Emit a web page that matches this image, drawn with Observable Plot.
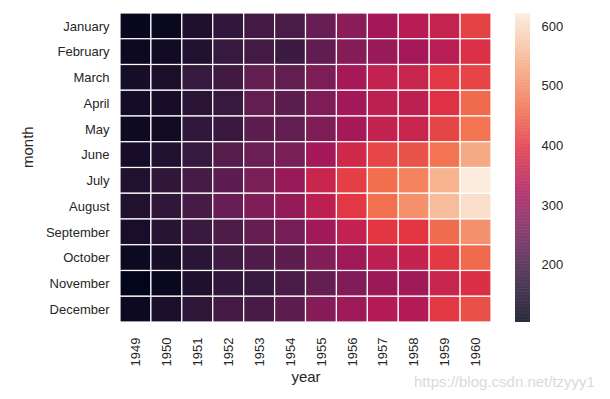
<!DOCTYPE html>
<html><head><meta charset="utf-8">
<script src="https://cdn.jsdelivr.net/npm/d3@7"></script>
<script src="https://cdn.jsdelivr.net/npm/@observablehq/plot@0.6"></script>
<style>
body{margin:0;background:#fff;font-family:"Liberation Sans",Arial,sans-serif;}
#wrap{position:relative;width:610px;height:399px;}
#wrap svg{position:absolute;top:0;}
#wm{position:absolute;left:414px;top:373px;font-size:15px;color:#dadada;font-family:"Liberation Sans",Arial,sans-serif;}
</style></head>
<body><div id="wrap"><div id="wm">https://blog.csdn.net/tzyyy1</div></div>
<script>
const months = ["January","February","March","April","May","June","July","August","September","October","November","December"];
const years = ["1949","1950","1951","1952","1953","1954","1955","1956","1957","1958","1959","1960"];
const passengers = [
  [112,118,132,129,121,135,148,148,136,119,104,118],
  [115,126,141,135,125,149,170,170,158,133,114,140],
  [145,150,178,163,172,178,199,199,184,162,146,166],
  [171,180,193,181,183,218,230,242,209,191,172,194],
  [196,196,236,235,229,243,264,272,237,211,180,201],
  [204,188,235,227,234,264,302,293,259,229,203,229],
  [242,233,267,269,270,315,364,347,312,274,237,278],
  [284,277,317,313,318,374,413,405,355,306,271,306],
  [315,301,356,348,355,422,465,467,404,347,305,336],
  [340,318,362,348,363,435,491,505,404,359,310,337],
  [360,342,406,396,420,472,548,559,463,407,362,405],
  [417,391,419,461,472,535,622,606,508,461,390,432]
];
const colorTicks = [200,300,400,500,600];

const rocketStops = ["#03051a","#35193e","#701f57","#ad1759","#e13342","#f37651","#f6b48f","#faebdd"];
const rocket = d3.piecewise(d3.interpolateRgb, rocketStops);
const vmin = d3.min(passengers.flat()), vmax = d3.max(passengers.flat());
const colorOpt = {type:"linear", domain:[vmin, vmax], interpolate: () => rocket};

const data = [];
years.forEach((y,i)=>months.forEach((m,j)=>data.push({year:y, month:m, value:passengers[i][j]})));

const txt = "#262626";
const font = "Liberation Sans, Arial, sans-serif";
const main = Plot.plot({
  width: 610, height: 399,
  marginLeft: 120, marginRight: 119, marginTop: 13, marginBottom: 77,
  style: {fontFamily:font, fontSize:"13px", color: txt, background:"transparent"},
  x: {domain: years, padding: 0, round: false, label: null},
  y: {domain: months, padding: 0, round: false, label: null},
  color: colorOpt,
  marks: [
    Plot.cell(data, {x:"year", y:"month", fill:"value", stroke:"white", strokeWidth:1.2}),
    Plot.axisX({tickSize:0, tickPadding:15, tickRotate:-90, fontSize:13, label:null}),
    Plot.axisY({tickSize:0, tickPadding:11, fontSize:13, label:null}),
    Plot.text(["year"], {frameAnchor:"bottom", dy:59, fontSize:15, fill:txt, text:d=>d}),
    Plot.text(["month"], {frameAnchor:"left", dx:-92, rotate:-90, fontSize:15, fill:txt, text:d=>d})
  ]
});

const steps = d3.range(vmin, vmax, 1).map(v => ({y1:v, y2:Math.min(v+1.2, vmax), v}));
const bar = Plot.plot({
  width: 120, height: 399,
  marginLeft: 25, marginRight: 80, marginTop: 13, marginBottom: 77,
  style: {fontFamily:font, fontSize:"13px", color: txt, background:"transparent"},
  x: {axis:null, domain:[0,1]},
  y: {domain:[vmin, vmax], label:null},
  color: colorOpt,
  marks: [
    Plot.rect(steps, {x1:0, x2:1, y1:"y1", y2:"y2", fill:"v"}),
    Plot.axisY({anchor:"right", ticks: colorTicks, tickSize:0, tickPadding:11, fontSize:13, label:null, tickFormat:d=>String(d)})
  ]
});
const wrap = document.getElementById("wrap");
main.style.left = "0px";
bar.style.left = "490px";
wrap.appendChild(main);
wrap.appendChild(bar);
</script></body></html>
